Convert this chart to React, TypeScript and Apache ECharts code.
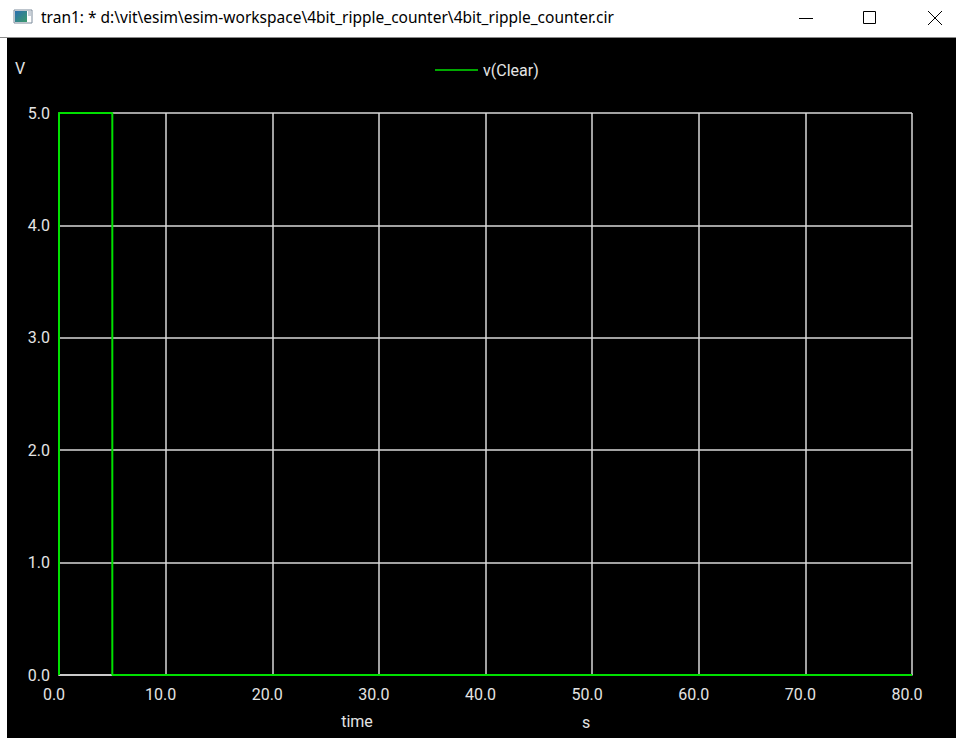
import React, { useEffect, useRef } from "react";
import * as echarts from "echarts";

// Transient result for node v(Clear): time in seconds, voltage in volts
const timeS = [0, 0, 5, 5, 80];
const clearV = [0, 5, 5, 0, 0];

const xTicks = [0, 10, 20, 30, 40, 50, 60, 70, 80];
const yTicks = [0, 1, 2, 3, 4, 5];

const windowTitle =
  "tran1: * d:\\vit\\esim\\esim-workspace\\4bit_ripple_counter\\4bit_ripple_counter.cir";
const seriesName = "v(Clear)";

const W = 956;
const H = 738;
const LABEL = "#e4e4e4";
const GRID = "#d8d8d8";
const TRACE = "#00e000";
const FONT = "Roboto, 'Liberation Sans', sans-serif";
const FS = 16;

export default function App() {
  const ref = useRef<HTMLDivElement>(null);

  useEffect(() => {
    if (!ref.current) return;
    const chart = echarts.init(ref.current, undefined, { renderer: "svg" });

    const points = timeS.map((t, i) => [t, clearV[i]]);

    chart.setOption({
      animation: false,
      backgroundColor: "#ffffff",
      textStyle: { fontFamily: FONT },
      graphic: [
        // plot window background
        { type: "rect", z: -10, silent: true, shape: { x: 7, y: 38, width: W - 7, height: H - 38 }, style: { fill: "#000000" } },
        { type: "line", z: -9, silent: true, shape: { x1: 0, y1: 37.5, x2: W, y2: 37.5 }, style: { stroke: "#8a8a8a", lineWidth: 1 } },
        // title bar icon
        { type: "rect", shape: { x: 14, y: 10, width: 18, height: 13 }, style: { fill: "#ffffff", stroke: "#7a8a9a", lineWidth: 1 } },
        {
          type: "rect",
          shape: { x: 15, y: 11, width: 12, height: 11 },
          style: {
            fill: new echarts.graphic.LinearGradient(0, 0, 1, 1, [
              { offset: 0, color: "#2a6fb0" },
              { offset: 1, color: "#3c9a6a" },
            ]),
          },
        },
        { type: "rect", shape: { x: 28, y: 11, width: 3, height: 5 }, style: { fill: "#c8d0d8" } },
        // title text
        {
          type: "text",
          x: 41,
          y: 17,
          style: { text: windowTitle, fill: "#000000", font: `15.5px 'Noto Sans', 'Open Sans', sans-serif`, verticalAlign: "middle" },
        },
        // window controls
        { type: "line", shape: { x1: 799, y1: 18.5, x2: 813, y2: 18.5 }, style: { stroke: "#000000", lineWidth: 1 } },
        { type: "rect", shape: { x: 863.5, y: 11.5, width: 12, height: 12 }, style: { fill: "none", stroke: "#000000", lineWidth: 1 } },
        { type: "line", shape: { x1: 928, y1: 11, x2: 942, y2: 25 }, style: { stroke: "#000000", lineWidth: 1 } },
        { type: "line", shape: { x1: 942, y1: 11, x2: 928, y2: 25 }, style: { stroke: "#000000", lineWidth: 1 } },
        // axis titles
        { type: "text", x: 20, y: 68, style: { text: "V", fill: LABEL, font: `${FS}px ${FONT}`, align: "center", verticalAlign: "middle" } },
        { type: "text", x: 357, y: 721, style: { text: "time", fill: LABEL, font: `${FS}px ${FONT}`, align: "center", verticalAlign: "middle" } },
        { type: "text", x: 586, y: 722, style: { text: "s", fill: LABEL, font: `${FS}px ${FONT}`, align: "center", verticalAlign: "middle" } },
      ],
      legend: {
        data: [seriesName],
        left: 430,
        top: 57,
        icon: "rect",
        itemWidth: 43,
        itemHeight: 1.5,
        itemGap: 10,
        textStyle: { color: LABEL, fontSize: FS, fontFamily: FONT, padding: [5, 0, 0, 0] },
      },
      grid: { left: 59, top: 113, right: W - 912, bottom: H - 675, containLabel: false },
      xAxis: {
        type: "value",
        min: xTicks[0],
        max: xTicks[xTicks.length - 1],
        interval: 10,
        axisLine: { show: true, lineStyle: { color: GRID, width: 1.5 } },
        axisTick: { show: false },
        splitLine: { show: true, lineStyle: { color: GRID, width: 1.5 } },
        axisLabel: {
          color: LABEL,
          fontSize: FS,
          fontFamily: FONT,
          margin: 11,
          padding: [0, 10, 0, 0],
          formatter: (v: number) => v.toFixed(1),
        },
      },
      yAxis: {
        type: "value",
        min: yTicks[0],
        max: yTicks[yTicks.length - 1],
        interval: 1,
        axisLine: { show: true, lineStyle: { color: GRID, width: 1.5 } },
        axisTick: { show: false },
        splitLine: { show: true, lineStyle: { color: GRID, width: 1.5 } },
        axisLabel: {
          color: LABEL,
          fontSize: FS,
          fontFamily: FONT,
          margin: 9,
          formatter: (v: number) => v.toFixed(1),
        },
      },
      series: [
        {
          name: seriesName,
          type: "line",
          data: points,
          showSymbol: false,
          symbol: "none",
          itemStyle: { color: TRACE },
          lineStyle: { color: TRACE, width: 2 },
          z: 5,
        },
      ],
    });

    return () => chart.dispose();
  }, []);

  return (
    <div
      ref={ref}
      style={{ position: "absolute", left: 0, top: 0, width: W, height: H }}
    />
  );
}
